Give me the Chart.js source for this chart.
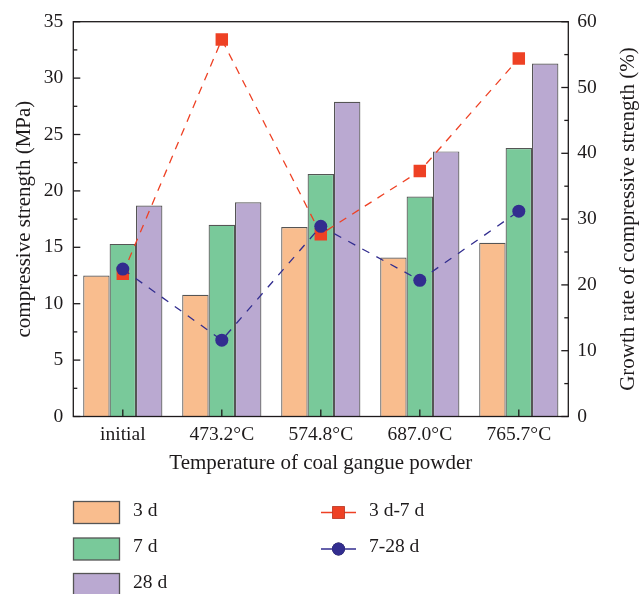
<!DOCTYPE html>
<html>
<head>
<meta charset="utf-8">
<script src="https://cdn.jsdelivr.net/npm/chart.js@4.4.0/dist/chart.umd.min.js"></script>
<style>
  html, body { margin: 0; padding: 0; background: #ffffff; }
  #wrap { width: 640px; height: 594px; position: relative; }
</style>
</head>
<body>
<div id="wrap"><canvas id="chart" width="640" height="594"></canvas></div>
<script>
// Categories: calcination temperature of the coal gangue powder
const categories = ['initial', '473.2°C', '574.8°C', '687.0°C', '765.7°C'];

// Compressive strength (MPa) at each curing age
const strength3d  = [12.5, 10.8, 16.8, 14.1, 15.4];
const strength7d  = [15.3, 17.0, 21.5, 19.5, 23.8];
const strength28d = [18.7, 19.0, 27.9, 23.5, 31.3];

// Growth rate of compressive strength (%)
const growth3to7  = [21.7, 57.3, 27.7, 37.3, 54.4];
const growth7to28 = [22.4, 11.6, 28.9, 20.7, 31.2];

// Axis ranges and tick steps
const leftAxis  = { min: 0, max: 35, step: 5 };
const rightAxis = { min: 0, max: 60, step: 10 };

const FONT_FAMILY = '"Liberation Serif", "Times New Roman", serif';
const INK = '#1d1a1b';
const EDGE = '#555555';

const titles = {
  x: 'Temperature of coal gangue powder',
  y: 'compressive strength (MPa)',
  y1: 'Growth rate of compressive strength (%)'
};

// Plot frame plus inward major/minor ticks
const frameTicks = {
  id: 'frameTicks',
  afterDatasetsDraw(chart) {
    const { ctx, chartArea: a, scales } = chart;
    ctx.save();
    ctx.strokeStyle = INK;
    ctx.lineWidth = 1.3;
    const seg = (x1, y1, x2, y2) => { ctx.beginPath(); ctx.moveTo(x1, y1); ctx.lineTo(x2, y2); ctx.stroke(); };
    ctx.strokeRect(a.left, a.top, a.right - a.left, a.bottom - a.top);

    const vTicks = (scale, x0, dir, major, minor) => {
      const vals = scale.ticks.map(t => t.value);
      vals.forEach((v, i) => {
        const p = scale.getPixelForValue(v);
        seg(x0, p, x0 + dir * major, p);
        if (i < vals.length - 1) {
          const pm = scale.getPixelForValue((v + vals[i + 1]) / 2);
          seg(x0, pm, x0 + dir * minor, pm);
        }
      });
    };
    vTicks(scales.y, a.left, 1, 7, 4);
    vTicks(scales.y1, a.right, -1, 7, 4);

    scales.x.ticks.forEach((t, i) => {
      const px = scales.x.getPixelForTick(i);
      seg(px, a.bottom, px, a.bottom - 7);
    });
    ctx.restore();
  }
};

// Axis titles (both vertical titles read bottom-to-top)
const axisTitles = {
  id: 'axisTitles',
  afterDraw(chart) {
    const { ctx, chartArea: a } = chart;
    ctx.save();
    ctx.fillStyle = INK;
    ctx.font = '21px ' + FONT_FAMILY;
    ctx.textAlign = 'center';
    ctx.textBaseline = 'middle';
    ctx.fillText(titles.x, (a.left + a.right) / 2, 463);
    const midY = (a.top + a.bottom) / 2;
    [[24, titles.y], [628, titles.y1]].forEach(([x, t]) => {
      ctx.save();
      ctx.translate(x, midY);
      ctx.rotate(-Math.PI / 2);
      ctx.fillText(t, 0, 0);
      ctx.restore();
    });
    ctx.restore();
  }
};

// Two-column legend under the plot
const sideLegend = {
  id: 'sideLegend',
  afterDraw(chart) {
    const { ctx } = chart;
    const ds = chart.data.datasets;
    const bars = ds.filter(d => d.type === 'bar');
    const lines = ds.filter(d => d.type === 'line');
    const rows = [512.5, 549, 584.5];
    ctx.save();
    ctx.font = '19.5px ' + FONT_FAMILY;
    ctx.textBaseline = 'middle';
    ctx.textAlign = 'left';
    bars.forEach((d, i) => {
      const y = rows[i];
      ctx.fillStyle = d.backgroundColor;
      ctx.fillRect(73.5, y - 11, 46, 22);
      ctx.strokeStyle = EDGE;
      ctx.lineWidth = 1.3;
      ctx.strokeRect(73.5, y - 11, 46, 22);
      ctx.fillStyle = INK;
      ctx.fillText(d.label, 133, y - 2);
    });
    lines.forEach((d, i) => {
      const y = rows[i];
      ctx.strokeStyle = d.borderColor;
      ctx.lineWidth = 1.3;
      ctx.beginPath(); ctx.moveTo(321, y); ctx.lineTo(356, y); ctx.stroke();
      Chart.helpers.drawPoint(ctx, {
        pointStyle: d.pointStyle, radius: d.pointRadius, borderWidth: 0, rotation: 0
      }, 338.5, y);
      ctx.fillStyle = d.pointBackgroundColor;
      ctx.fill();
      ctx.fillStyle = INK;
      ctx.fillText(d.label, 369, y - 2);
    });
    ctx.restore();
  }
};

const barCommon = { type: 'bar', yAxisID: 'y', order: 2, borderColor: EDGE, borderWidth: 1.2,
  categoryPercentage: 0.8, barPercentage: 1.0 };
const lineCommon = { type: 'line', yAxisID: 'y1', borderWidth: 1.3, fill: false, tension: 0,
  pointBorderWidth: 0 };

new Chart(document.getElementById('chart'), {
  data: {
    labels: categories,
    datasets: [
      Object.assign({}, lineCommon, { label: '3 d-7 d', data: growth3to7, order: 1,
        borderColor: '#ee4124', pointBackgroundColor: '#ee4124', pointBorderColor: '#ee4124',
        pointStyle: 'rect', pointRadius: 8.8, borderDash: [8, 7] }),
      Object.assign({}, lineCommon, { label: '7-28 d', data: growth7to28, order: 0,
        borderColor: '#322d8f', pointBackgroundColor: '#322d8f', pointBorderColor: '#322d8f',
        pointStyle: 'circle', pointRadius: 6.5, borderDash: [8, 8] }),
      Object.assign({}, barCommon, { label: '3 d', data: strength3d, backgroundColor: '#f9bd8e' }),
      Object.assign({}, barCommon, { label: '7 d', data: strength7d, backgroundColor: '#79c99a' }),
      Object.assign({}, barCommon, { label: '28 d', data: strength28d, backgroundColor: '#baa9d1' })
    ]
  },
  options: {
    responsive: false,
    maintainAspectRatio: false,
    animation: false,
    layout: { padding: { top: 19, bottom: 0, left: 0, right: 0 } },
    plugins: { legend: { display: false }, tooltip: { enabled: false }, title: { display: false } },
    scales: {
      x: {
        type: 'category',
        grid: { display: false, drawTicks: false, tickLength: 0 },
        border: { display: false },
        ticks: { color: INK, font: { family: FONT_FAMILY, size: 19.5 }, padding: 7, maxRotation: 0, autoSkip: false },
        afterFit(s) { s.height = 177.5; }
      },
      y: {
        position: 'left',
        min: leftAxis.min, max: leftAxis.max,
        grid: { display: false, drawTicks: false, tickLength: 0 },
        border: { display: false },
        ticks: { stepSize: leftAxis.step, color: INK, font: { family: FONT_FAMILY, size: 19.5 }, padding: 10 },
        afterFit(s) { s.width = 73.3; }
      },
      y1: {
        position: 'right',
        min: rightAxis.min, max: rightAxis.max,
        grid: { display: false, drawTicks: false, tickLength: 0 },
        border: { display: false },
        ticks: { stepSize: rightAxis.step, color: INK, font: { family: FONT_FAMILY, size: 19.5 }, padding: 9 },
        afterFit(s) { s.width = 71.7; }
      }
    }
  },
  plugins: [frameTicks, axisTitles, sideLegend]
});
</script>
</body>
</html>
